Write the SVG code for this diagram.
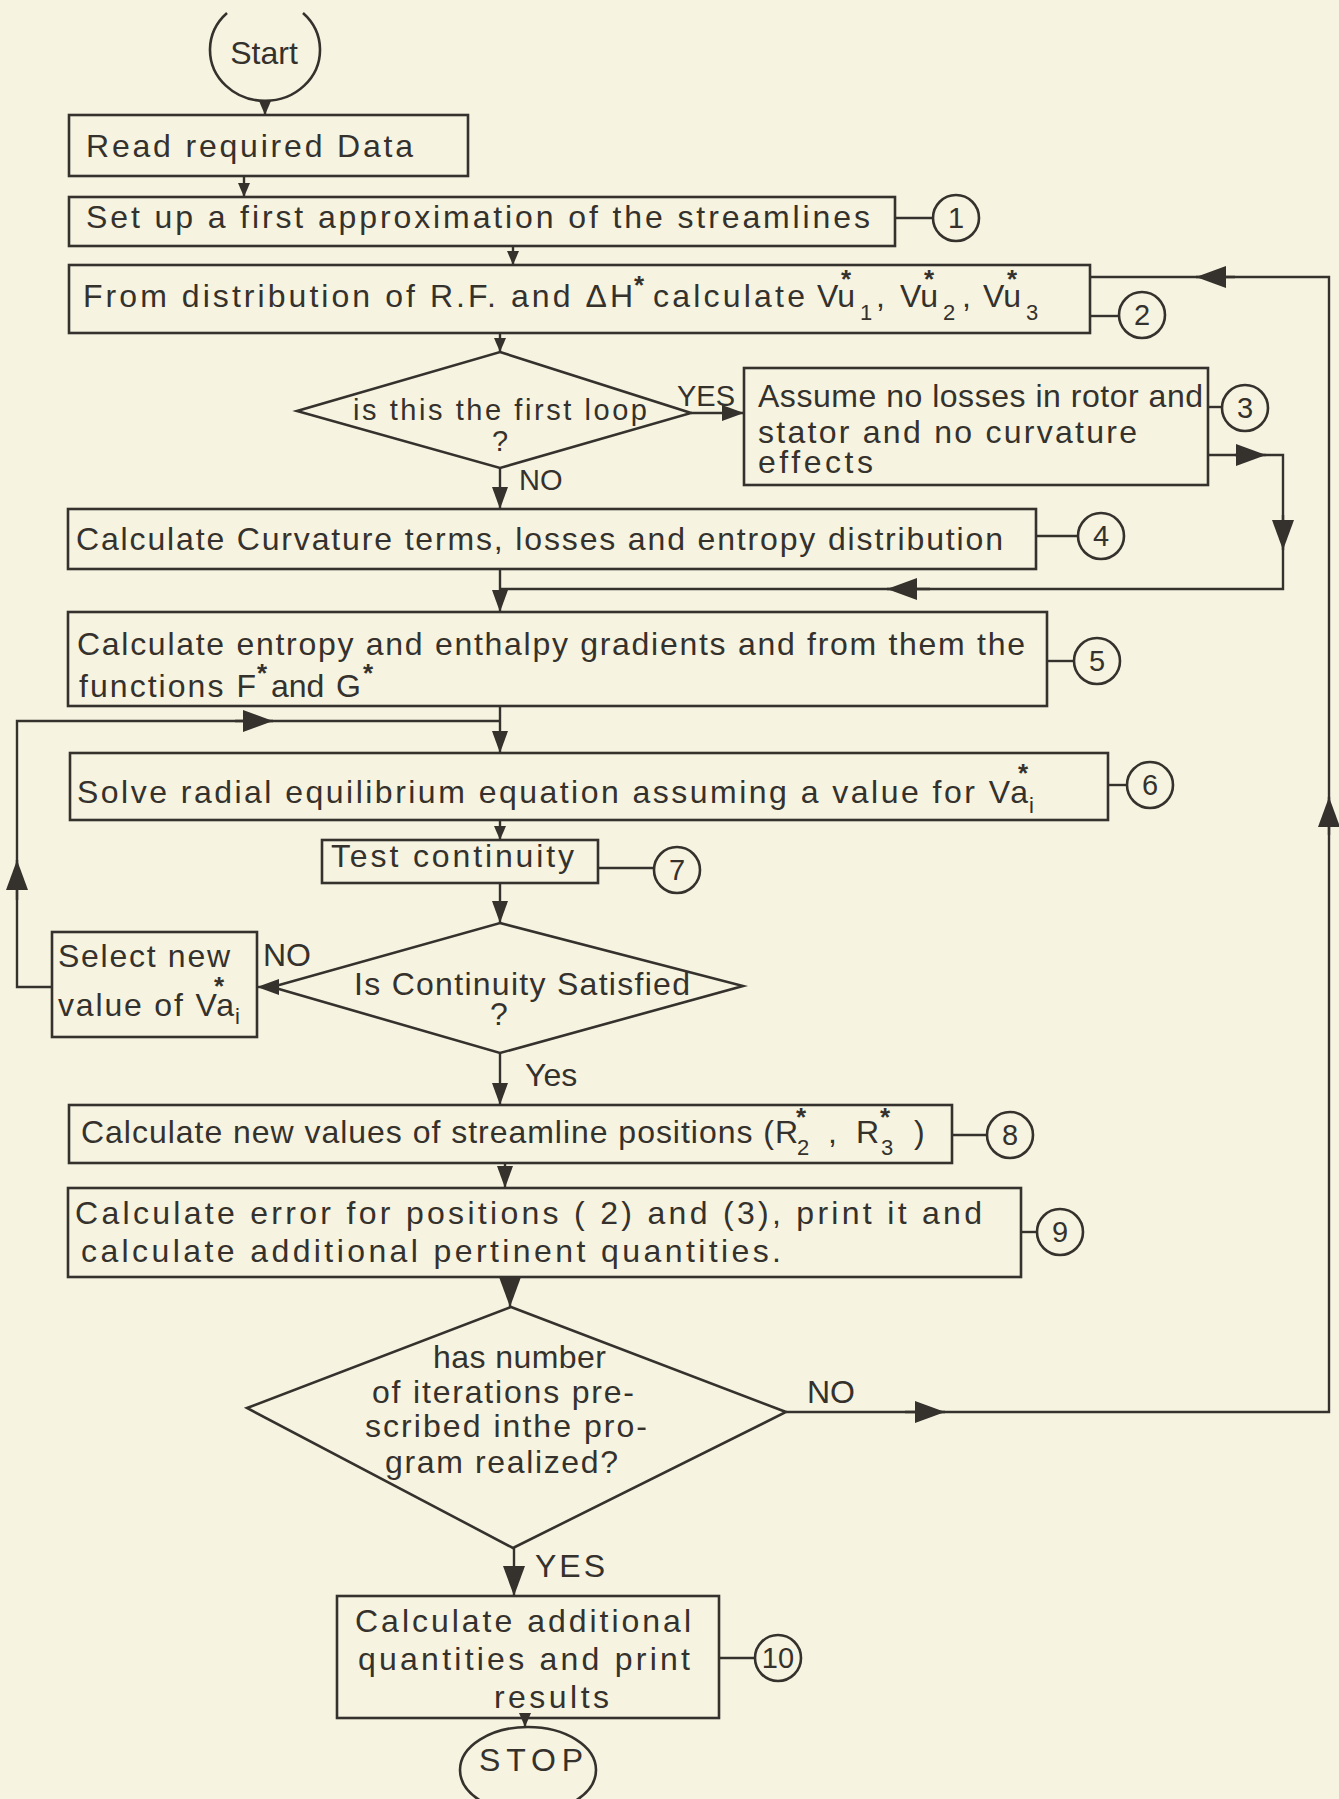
<svg xmlns="http://www.w3.org/2000/svg" width="1339" height="1799" viewBox="0 0 1339 1799">
<style>
  .bg { fill: #f6f4e1; }
  .box { fill: none; stroke: #35312c; stroke-width: 2.6; }
  .ln { fill: none; stroke: #35312c; stroke-width: 2.4; }
  .t { font-family: "Liberation Sans", Arial, sans-serif; font-size: 32px; fill: #35312c; }
  .s { font-size: 29px; }
  .sup { font-size: 26px; font-weight: bold; }
  .sub { font-size: 22px; }
  .n { font-family: "Liberation Sans", Arial, sans-serif; font-size: 29px; fill: #35312c; text-anchor: middle; }
  .m { text-anchor: middle; }
</style>
<defs>
  <marker id="ab" viewBox="0 0 30 22" refX="30" refY="11" markerWidth="30" markerHeight="22" markerUnits="userSpaceOnUse" orient="auto">
    <path d="M0,0 L30,11 L0,22 z" fill="#35312c"/>
  </marker>
  <marker id="am" viewBox="0 0 22 16" refX="22" refY="8" markerWidth="22" markerHeight="16" markerUnits="userSpaceOnUse" orient="auto">
    <path d="M0,0 L22,8 L0,16 z" fill="#35312c"/>
  </marker>
  <marker id="as" viewBox="0 0 14 12" refX="14" refY="6" markerWidth="14" markerHeight="12" markerUnits="userSpaceOnUse" orient="auto">
    <path d="M0,0 L14,6 L0,12 z" fill="#35312c"/>
  </marker>
</defs>
<rect class="bg" x="0" y="0" width="1339" height="1799"/>

<g id="connectors">
  <path class="ln" d="M265,101 V115" marker-end="url(#as)"/>
  <path class="ln" d="M244,176 V197" marker-end="url(#as)"/>
  <path class="ln" d="M513,246 V265" marker-end="url(#as)"/>
  <path class="ln" d="M500,333 V352" marker-end="url(#as)"/>
  <path class="ln" d="M691,413 H744" marker-end="url(#am)"/>
  <path class="ln" d="M500,468 V509" marker-end="url(#am)"/>
  <path class="ln" d="M1208,455 H1283 V589 H500"/>
  <path class="ln" d="M1235,455 H1266" marker-end="url(#ab)"/>
  <path class="ln" d="M1283,515 V550" marker-end="url(#ab)"/>
  <path class="ln" d="M930,589 H887" marker-end="url(#ab)"/>
  <path class="ln" d="M500,569 V612" marker-end="url(#am)"/>
  <path class="ln" d="M786,1412 H1329 V277 H1090"/>
  <path class="ln" d="M905,1412 H945" marker-end="url(#ab)"/>
  <path class="ln" d="M1329,835 V797" marker-end="url(#ab)"/>
  <path class="ln" d="M1235,277 H1196" marker-end="url(#ab)"/>
  <path class="ln" d="M500,706 V753" marker-end="url(#am)"/>
  <path class="ln" d="M52,987 H17 V721 H500"/>
  <path class="ln" d="M17,900 V860" marker-end="url(#ab)"/>
  <path class="ln" d="M235,721 H273" marker-end="url(#ab)"/>
  <path class="ln" d="M500,820 V840" marker-end="url(#as)"/>
  <path class="ln" d="M500,883 V923" marker-end="url(#am)"/>
  <path class="ln" d="M275,987 H257" marker-end="url(#am)"/>
  <path class="ln" d="M500,1053 V1105" marker-end="url(#am)"/>
  <path class="ln" d="M505,1163 V1188" marker-end="url(#am)"/>
  <path class="ln" d="M510,1277 V1307" marker-end="url(#ab)"/>
  <path class="ln" d="M514,1548 V1596" marker-end="url(#ab)"/>
  <path class="ln" d="M525,1718 V1727" marker-end="url(#as)"/>
  <path class="ln" d="M895,218 H933"/>
  <path class="ln" d="M1090,316 H1119"/>
  <path class="ln" d="M1208,407 H1222"/>
  <path class="ln" d="M1036,536 H1078"/>
  <path class="ln" d="M1047,661 H1074"/>
  <path class="ln" d="M1108,785 H1127"/>
  <path class="ln" d="M598,868 H654"/>
  <path class="ln" d="M952,1135 H987"/>
  <path class="ln" d="M1021,1232 H1037"/>
  <path class="ln" d="M719,1658 H755"/>
</g>

<g id="start">
  <path class="box" d="M227,13 A55 51 0 1 0 303,13"/>
  <text class="t m" x="264" y="64" font-size="31">Start</text>
</g>

<g id="read">
  <rect class="box" x="69" y="115" width="399" height="61"/>
  <text class="t" x="86" y="157" textLength="327">Read required Data</text>
</g>

<g id="step1">
  <rect class="box" x="69" y="197" width="826" height="49"/>
  <text class="t" x="86" y="228" textLength="784">Set up a first approximation of the streamlines</text>
</g>
<g id="c1"><circle class="box" cx="956" cy="218" r="23"/><text class="n" x="956" y="228">1</text></g>

<g id="step2">
  <rect class="box" x="69" y="265" width="1021" height="68"/>
  <text class="t" x="83" y="307"><tspan textLength="550">From distribution of R.F. and ΔH</tspan><tspan class="sup" x="634" y="294">*</tspan><tspan x="653" y="307" textLength="152">calculate</tspan><tspan x="817" y="307">Vu</tspan><tspan class="sup" x="841" y="288">*</tspan><tspan class="sub" x="860" y="320">1</tspan><tspan x="876" y="307">,</tspan><tspan x="900" y="307">Vu</tspan><tspan class="sup" x="924" y="288">*</tspan><tspan class="sub" x="943" y="320">2</tspan><tspan x="962" y="307">,</tspan><tspan x="983" y="307">Vu</tspan><tspan class="sup" x="1007" y="288">*</tspan><tspan class="sub" x="1026" y="320">3</tspan></text>
</g>
<g id="c2"><circle class="box" cx="1142" cy="315" r="23"/><text class="n" x="1142" y="325">2</text></g>

<g id="dec1">
  <polygon class="box" points="500,352 691,413 500,468 297,411"/>
  <text class="t s" x="353" y="420" textLength="294">is this the first loop</text>
  <text class="t s m" x="500" y="451">?</text>
</g>
<text class="t s" x="677" y="406">YES</text>
<text class="t s" x="519" y="490">NO</text>

<g id="step3">
  <rect class="box" x="744" y="368" width="464" height="117"/>
  <text class="t" x="758" y="407" font-size="30" textLength="445">Assume no losses in rotor and</text>
  <text class="t" x="758" y="443" font-size="30" textLength="379">stator and no curvature</text>
  <text class="t" x="758" y="473" font-size="30" textLength="115">effects</text>
</g>
<g id="c3"><circle class="box" cx="1245" cy="408" r="23"/><text class="n" x="1245" y="418">3</text></g>

<g id="step4">
  <rect class="box" x="68" y="509" width="968" height="60"/>
  <text class="t" x="76" y="550" textLength="927">Calculate Curvature terms, losses and entropy distribution</text>
</g>
<g id="c4"><circle class="box" cx="1101" cy="536" r="23"/><text class="n" x="1101" y="546">4</text></g>

<g id="step5">
  <rect class="box" x="68" y="612" width="979" height="94"/>
  <text class="t" x="77" y="655" textLength="948">Calculate entropy and enthalpy gradients and from them the</text>
  <text class="t" x="79" y="697"><tspan textLength="177">functions F</tspan><tspan class="sup" x="257" y="682">*</tspan><tspan x="271" y="697">and</tspan><tspan x="336" y="697">G</tspan><tspan class="sup" x="363" y="682">*</tspan></text>
</g>
<g id="c5"><circle class="box" cx="1097" cy="661" r="23"/><text class="n" x="1097" y="671">5</text></g>

<g id="step6">
  <rect class="box" x="70" y="753" width="1038" height="67"/>
  <text class="t" x="77" y="803"><tspan textLength="951">Solve radial equilibrium equation assuming a value for Va</tspan><tspan class="sup" x="1018" y="782">*</tspan><tspan class="sub" x="1029" y="813">i</tspan></text>
</g>
<g id="c6"><circle class="box" cx="1150" cy="785" r="23"/><text class="n" x="1150" y="795">6</text></g>

<g id="step7">
  <rect class="box" x="322" y="840" width="276" height="43"/>
  <text class="t" x="331" y="867" font-size="30" textLength="243">Test continuity</text>
</g>
<g id="c7"><circle class="box" cx="677" cy="870" r="23"/><text class="n" x="677" y="880">7</text></g>

<g id="dec2">
  <polygon class="box" points="500,923 743,986 500,1053 272,987"/>
  <text class="t" x="354" y="995" font-size="30" textLength="336">Is Continuity Satisfied</text>
  <text class="t m" x="499" y="1025" font-size="30">?</text>
</g>
<text class="t" x="263" y="966" font-size="29">NO</text>
<text class="t" x="525" y="1086" font-size="29">Yes</text>

<g id="select">
  <rect class="box" x="52" y="932" width="205" height="105"/>
  <text class="t" x="58" y="967" font-size="30" textLength="172">Select new</text>
  <text class="t" x="58" y="1016" font-size="30"><tspan textLength="176">value of Va</tspan><tspan class="sup" x="214" y="995">*</tspan><tspan class="sub" x="235" y="1024">i</tspan></text>
</g>

<g id="step8">
  <rect class="box" x="69" y="1105" width="883" height="58"/>
  <text class="t" x="81" y="1143"><tspan textLength="717">Calculate new values of streamline positions (R</tspan><tspan class="sup" x="796" y="1126">*</tspan><tspan class="sub" x="797" y="1155">2</tspan><tspan x="828" y="1143">,</tspan><tspan x="856" y="1143">R</tspan><tspan class="sup" x="880" y="1126">*</tspan><tspan class="sub" x="881" y="1155">3</tspan><tspan x="914" y="1143">)</tspan></text>
</g>
<g id="c8"><circle class="box" cx="1010" cy="1135" r="23"/><text class="n" x="1010" y="1145">8</text></g>

<g id="step9">
  <rect class="box" x="68" y="1188" width="953" height="89"/>
  <text class="t" x="75" y="1224" textLength="907">Calculate error for positions ( 2) and (3), print it and</text>
  <text class="t" x="81" y="1262" textLength="700">calculate additional pertinent quantities.</text>
</g>
<g id="c9"><circle class="box" cx="1060" cy="1232" r="23"/><text class="n" x="1060" y="1242">9</text></g>

<g id="dec3">
  <polygon class="box" points="511,1307 786,1412 513,1548 247,1408"/>
  <text class="t" x="433" y="1368" font-size="30" textLength="173">has number</text>
  <text class="t" x="372" y="1403" font-size="30" textLength="262">of iterations pre-</text>
  <text class="t" x="365" y="1437" font-size="30" textLength="282">scribed inthe pro-</text>
  <text class="t" x="385" y="1473" font-size="30" textLength="233">gram realized?</text>
</g>
<text class="t" x="807" y="1403" font-size="30">NO</text>
<text class="t" x="535" y="1577" font-size="30" textLength="70">YES</text>

<g id="step10">
  <rect class="box" x="337" y="1596" width="382" height="122"/>
  <text class="t" x="355" y="1632" font-size="30" textLength="336">Calculate additional</text>
  <text class="t" x="358" y="1670" font-size="30" textLength="332">quantities and print</text>
  <text class="t" x="494" y="1708" font-size="30" textLength="115">results</text>
</g>
<g id="c10"><circle class="box" cx="778" cy="1658" r="23"/><text class="n" x="778" y="1668">10</text></g>

<g id="stop">
  <ellipse class="box" cx="528" cy="1770" rx="68" ry="43"/>
  <text class="t" x="479" y="1771" font-size="30" textLength="104">STOP</text>
</g>
</svg>
